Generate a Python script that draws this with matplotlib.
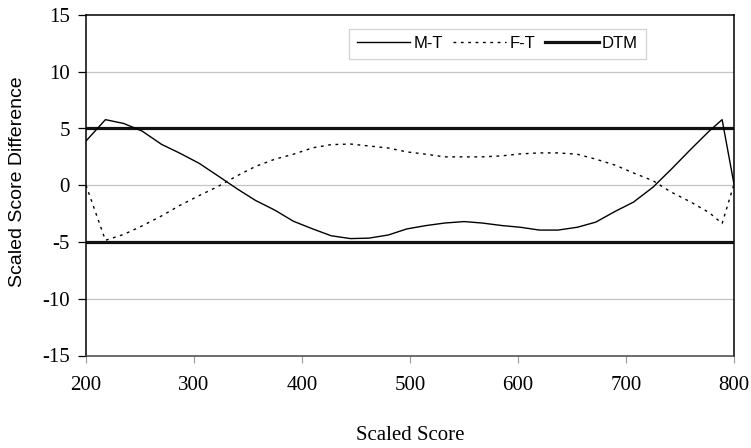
import matplotlib
matplotlib.use("Agg")
import matplotlib.pyplot as plt
from matplotlib.lines import Line2D

# Scaled score points at which the score differences were computed
scaled_score = [200, 218, 235, 252, 270, 287, 305, 322, 340, 357, 375, 392,
                410, 427, 445, 462, 480, 497, 515, 532, 550, 567, 585, 602,
                620, 637, 655, 672, 690, 707, 725, 742, 760, 777, 789, 800]

# Male minus total
m_t = [3.9, 5.78, 5.44, 4.77, 3.6, 2.82, 1.92, 0.84, -0.32, -1.34, -2.2, -3.17,
       -3.85, -4.45, -4.7, -4.66, -4.38, -3.85, -3.55, -3.33, -3.2, -3.33, -3.55, -3.7,
       -3.95, -3.95, -3.7, -3.25, -2.3, -1.48, -0.17, 1.42, 3.17, 4.77, 5.78, 0.1]

# Female minus total
f_t = [0.0, -4.85, -4.33, -3.58, -2.7, -1.77, -0.9, -0.12, 0.84, 1.66, 2.3, 2.73,
       3.3, 3.58, 3.63, 3.46, 3.28, 2.94, 2.73, 2.5, 2.5, 2.5, 2.59, 2.76,
       2.85, 2.85, 2.73, 2.3, 1.77, 1.08, 0.4, -0.61, -1.48, -2.41, -3.37, 0.1]

# Difference that matters bounds
dtm_x = [200, 800]
dtm_bound = 5

x_ticks = [200, 300, 400, 500, 600, 700, 800]
y_ticks = [-15, -10, -5, 0, 5, 10, 15]

serif = "Liberation Serif"
sans = "Liberation Sans"

fig = plt.figure(figsize=(7.51, 4.48), dpi=100)
ax = fig.add_axes([86 / 751, 1 - 355.5 / 448, 648 / 751, 340.5 / 448])

ax.set_xlim(dtm_x[0], dtm_x[1])
ax.set_ylim(y_ticks[0], y_ticks[-1])

# horizontal gridlines
for yv in y_ticks[1:-1]:
    ax.axhline(yv, color="#c4c4c4", lw=0.9, zorder=1)

ax.plot(scaled_score, m_t, color="black", lw=1.0, zorder=3)
ax.plot(scaled_score, f_t, color="black", lw=1.0, linestyle=(0, (2.0, 3.3)), zorder=3)
ax.plot(dtm_x, [dtm_bound, dtm_bound], color="#111111", lw=2.3, zorder=2)
ax.plot(dtm_x, [-dtm_bound, -dtm_bound], color="#111111", lw=2.3, zorder=2)

ax.set_xticks(x_ticks)
ax.set_yticks(y_ticks)
ax.set_xticklabels([str(v) for v in x_ticks], fontfamily=serif, fontsize=15)
ax.set_yticklabels([str(v) for v in y_ticks], fontfamily=serif, fontsize=15)
ax.tick_params(axis="x", direction="out", length=5, width=0.8, color="#999999", pad=10)
ax.tick_params(axis="y", direction="out", length=5.5, width=0.9, color="black", pad=6)

for side in ["left", "right", "top"]:
    ax.spines[side].set_color("black")
    ax.spines[side].set_linewidth(1.1)
ax.spines["bottom"].set_color("#444444")
ax.spines["bottom"].set_linewidth(1.1)

ax.set_xlabel("Scaled Score", fontfamily=serif, fontsize=15)
ax.xaxis.label.set_va("center")
ax.xaxis.set_label_coords(0.5, (355.5 - 435) / 340.5)

ax.set_ylabel("Scaled Score Difference", fontfamily=sans, fontsize=14)
ax.yaxis.label.set_va("center")
ax.yaxis.set_label_coords((18 - 86) / 648, 0.51)

handles = [
    Line2D([], [], color="black", lw=1.0),
    Line2D([], [], color="black", lw=1.0, linestyle=(0, (2.0, 3.3))),
    Line2D([], [], color="#111111", lw=2.3),
]
leg = ax.legend(handles, ["M-T", "F-T", "DTM"], ncol=3, loc="center",
                bbox_to_anchor=(0.635, 0.916), frameon=True, fancybox=False,
                prop={"family": sans, "size": 12}, handlelength=3.2,
                handletextpad=0.2, columnspacing=0.6, borderpad=0.45,
                borderaxespad=0)
leg.get_frame().set_edgecolor("#c8c8c8")
leg.get_frame().set_linewidth(0.9)

fig.savefig("out.png", dpi=100)
